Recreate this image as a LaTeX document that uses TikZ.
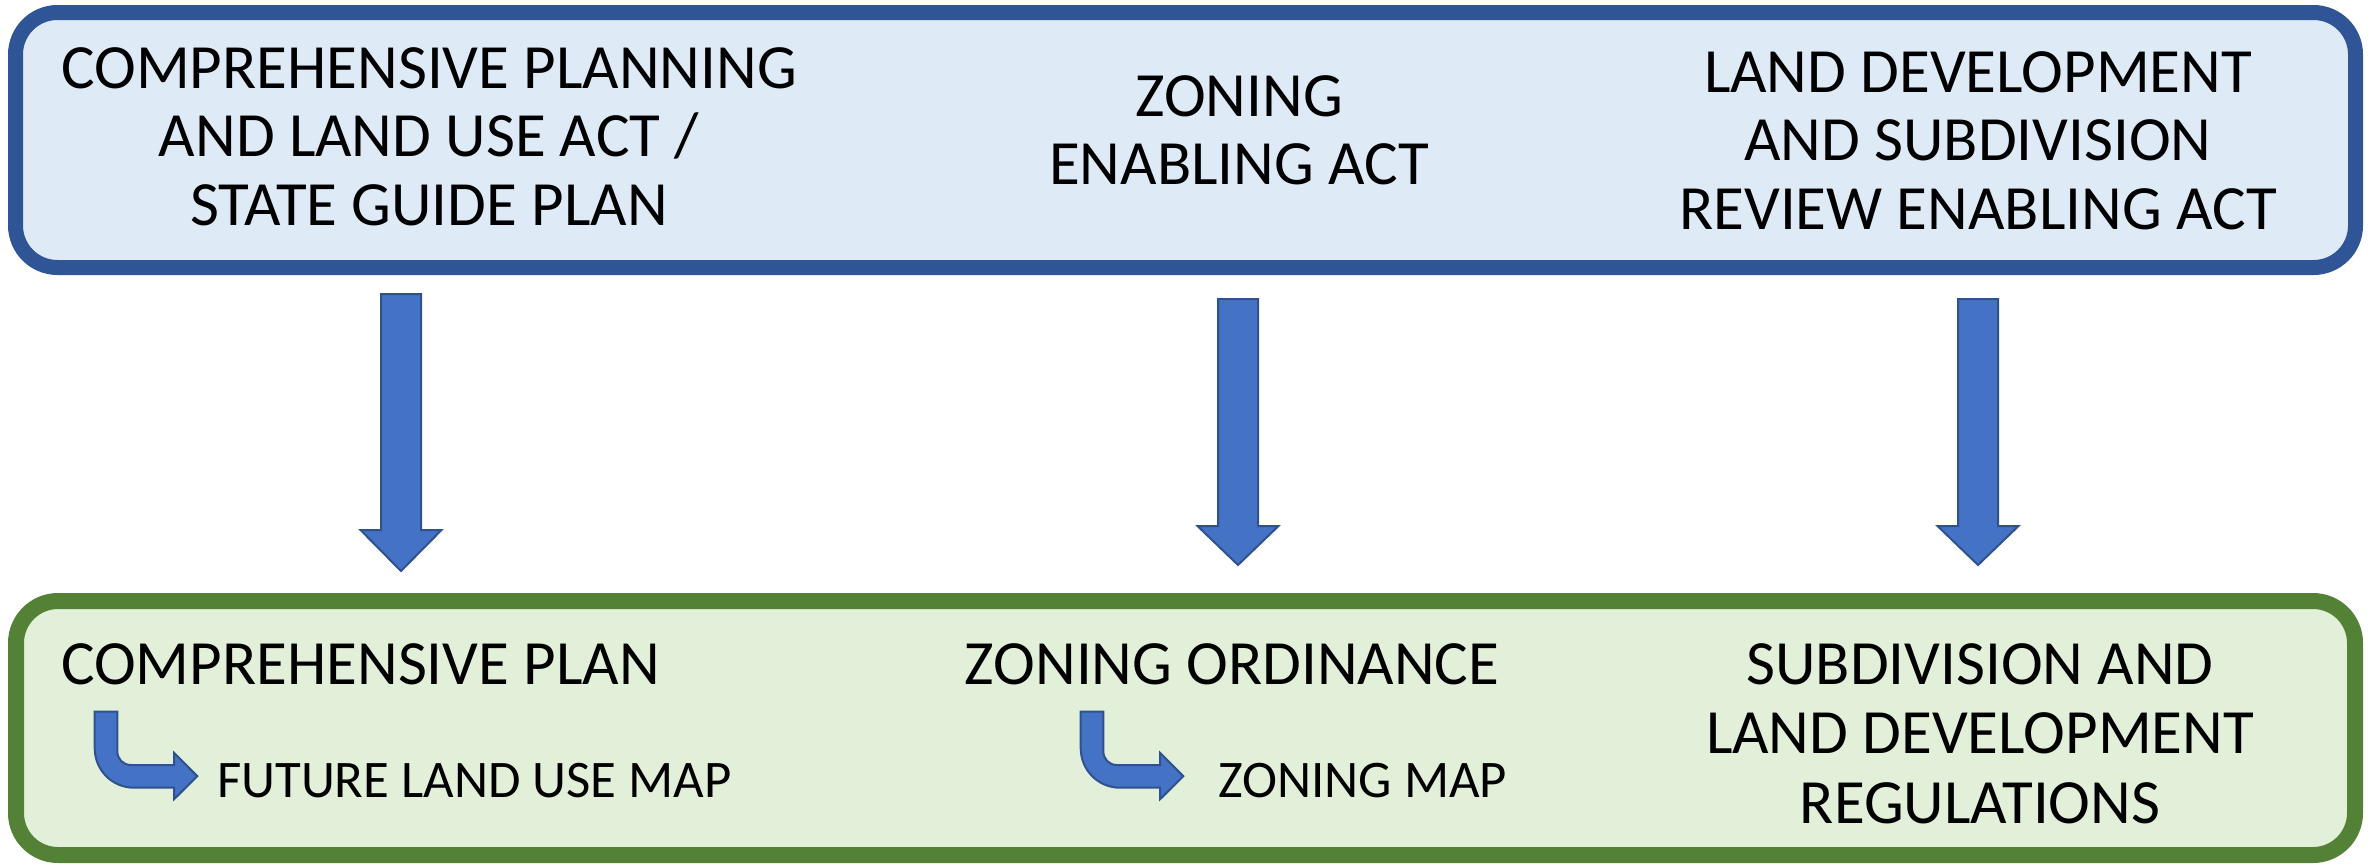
\documentclass[tikz,border=0pt]{standalone}
\usepackage{fontspec}
\setmainfont{Carlito}
\definecolor{actfill}{HTML}{DEEBF7}
\definecolor{actline}{HTML}{2F5597}
\definecolor{locfill}{HTML}{E2F0D9}
\definecolor{locline}{HTML}{538135}
\definecolor{arrfill}{HTML}{4472C4}
\definecolor{arrline}{HTML}{2F528F}
\tikzset{
  actbox/.style={draw=actline, fill=actfill, line width=15pt, rounded corners=42pt,
    minimum width=2340pt, minimum height=255pt, inner sep=0pt},
  locbox/.style={draw=locline, fill=locfill, line width=16pt, rounded corners=42pt,
    minimum width=2339pt, minimum height=254pt, inner sep=0pt},
  bigtxt/.style={inner sep=0pt, align=center, font=\fontsize{63}{68.5}\selectfont},
  smalltxt/.style={inner sep=0pt, font=\fontsize{52.8}{60}\selectfont},
  blockarrow/.style={fill=arrfill, draw=arrline, line width=2pt, line join=miter},
}
\begin{document}
\begin{tikzpicture}[x=1pt, y=-1pt]
\useasboundingbox (0,0) rectangle (2379,865);

% state enabling acts and local instruments
\node[actbox] (acts) at (1185.5,140) {};
\node[locbox] (local) at (1185.5,728) {};

\node[bigtxt, anchor=north] (act1) at (429,47) {COMPREHENSIVE PLANNING\\AND LAND USE ACT /\\STATE GUIDE PLAN};
\node[bigtxt, anchor=north] (act2) at (1239,75) {ZONING\\ENABLING ACT};
\node[bigtxt, anchor=north] (act3) at (1978,51) {LAND DEVELOPMENT\\AND SUBDIVISION\\REVIEW ENABLING ACT};

\node[bigtxt, anchor=north west] (loc1) at (61,643) {COMPREHENSIVE PLAN};
\node[bigtxt, anchor=north] (loc2) at (1232,643) {ZONING ORDINANCE};
\node[bigtxt, anchor=north, font=\fontsize{63}{69.5}\selectfont] (loc3) at (1980,643) {SUBDIVISION AND\\LAND DEVELOPMENT\\REGULATIONS};

\node[smalltxt, anchor=north west] (map1) at (217,763) {FUTURE LAND USE MAP};
\node[smalltxt, anchor=north west] (map2) at (1218,763) {ZONING MAP};

% downward block arrows from each act to its local instrument
\foreach \cx/\top/\hb/\tip in {401/294/530/571, 1238/299/526/565, 1978/299/526/565}{
  \draw[blockarrow] (\cx-20,\top) -- (\cx+20,\top) -- (\cx+20,\hb) -- (\cx+40.5,\hb)
    -- (\cx,\tip) -- (\cx-40.5,\hb) -- (\cx-20,\hb) -- cycle;
}

% bent arrows pointing to the maps
\foreach \dx in {-986, 0}{
  \begin{scope}[xshift=\dx pt]
  \draw[blockarrow] (1080.7,711.7) -- (1103.3,711.7) -- (1103.3,751)
    .. controls (1103.3,758.7) and (1108.7,765) .. (1117,765)
    -- (1160,765) -- (1160,752.7) -- (1183.3,776.2) -- (1160,799.3) -- (1160,787.7)
    -- (1120,787.7)
    .. controls (1098,787.7) and (1080.7,770) .. (1080.7,748) -- cycle;
  \end{scope}
}
\end{tikzpicture}
\end{document}
